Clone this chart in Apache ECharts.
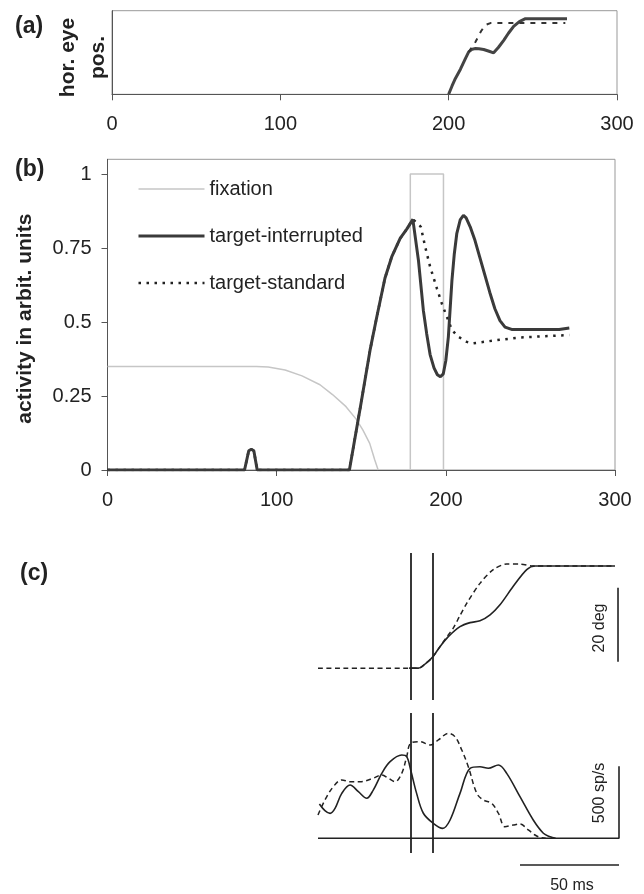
<!DOCTYPE html>
<html lang="en">
<head>
    <meta charset="UTF-8">
    <title>activity</title>
    <script type="text/javascript" src="https://cdn.jsdelivr.net/npm/echarts@6/dist/echarts.min.js"></script>
    <style>
        body { margin: 0; background: #fff; }
        #charts { width: 644px; height: 894px; }
    </style>
</head>
<body>
<div id="charts"></div>
<script>
    // (a) horizontal eye position, time in ms
    var eyeInterrupted = [[200, 0], [202, 0.1], [204, 0.19], [207, 0.3], [210, 0.43], [211.9, 0.507], [214, 0.54], [215.9, 0.547],
        [218, 0.545], [220.8, 0.536], [224, 0.515], [226.7, 0.496], [229.5, 0.56], [232.7, 0.646], [235.5, 0.73],
        [238.6, 0.813], [242, 0.87], [245.6, 0.905], [270.3, 0.905]]
    var eyeStandard = [[211.9, 0.507], [215.9, 0.626], [219.3, 0.757], [222, 0.83], [224.8, 0.852], [269.3, 0.852]]

    // (b) activity
    var fixation = [[0, 0.35], [88, 0.35], [95, 0.348], [105, 0.338], [115, 0.318], [125.6, 0.288], [133, 0.255],
        [141, 0.214], [147, 0.172], [151, 0.135], [155, 0.09], [158, 0.034], [160, 0]]
    var gapWindow = [[179, 0], [179, 1], [198.6, 1], [198.6, 0]]
    var targetInterrupted = [[0, 0], [81, 0], [83.5, 0.065], [85, 0.07], [86.5, 0.065], [88.5, 0], [143, 0], [150, 0.23],
        [155.2, 0.405], [159.2, 0.518], [164, 0.648], [168, 0.72], [173, 0.783], [177, 0.815], [180.5, 0.847],
        [183.8, 0.709], [186.7, 0.54], [188.7, 0.46], [190.7, 0.39], [193, 0.345], [195, 0.322], [196.8, 0.315],
        [198.5, 0.325], [200, 0.37], [201.5, 0.45], [203.6, 0.64], [205, 0.73], [206.5, 0.8], [208.5, 0.845],
        [210.4, 0.861], [212, 0.852], [214.4, 0.822], [217, 0.78], [220, 0.72], [223, 0.66], [226, 0.6], [229, 0.545],
        [232, 0.505], [235, 0.483], [238.9, 0.475], [267, 0.475], [268, 0.48], [273, 0.48]]
    var targetStandard = [[0, 0], [81, 0], [83.5, 0.065], [85, 0.07], [86.5, 0.065], [88.5, 0], [143, 0], [150, 0.23],
        [155.2, 0.405], [159.2, 0.518], [164, 0.648], [168, 0.72], [173, 0.783], [177, 0.815], [180.5, 0.847],
        [183, 0.835], [185.2, 0.822], [187.8, 0.754], [190.7, 0.687], [194.7, 0.614], [197.6, 0.563], [200.6, 0.518],
        [203.6, 0.473], [207.5, 0.45], [212.4, 0.433], [216, 0.428], [229, 0.438], [244, 0.448], [273, 0.456]]
    var xTicks = [0, 100, 200, 300]
    var yTicks = [0, 0.25, 0.5, 0.75, 1]

    // (c) recording: eye position (deg) and firing rate (sp/s), time in ms
    var recEyeSolid = [[46, 0], [50.7, 0], [54.9, 1.5], [57.9, 3.0], [61.6, 5.8], [65.8, 8.5], [71.7, 11.2], [76.8, 12.3],
        [81.8, 12.8], [86.9, 14.4], [91.9, 17.1], [98.6, 22.1], [105.4, 26.6], [109.6, 27.6], [150, 27.6]]
    var recEyeDashed = [[0, 0], [50.7, 0], [54.9, 1.5], [57.9, 3.0], [61.6, 5.8], [65.8, 9.0], [68.3, 10.8], [71.5, 14],
        [75.1, 17.5], [81.8, 22.9], [88.5, 26.6], [95.3, 28.1], [102, 28.1], [108.7, 27.6], [150, 27.6]]
    var recRateSolid = [[0.7, 238], [3.5, 192], [6.1, 173], [8.6, 208], [12, 312], [16.2, 370], [20.4, 324], [24.6, 278],
        [27.9, 335], [32.2, 451], [36.4, 532], [42.3, 578], [44.8, 567], [46.8, 474], [49.8, 312], [53.2, 174],
        [58.2, 104], [63, 69], [66.7, 127], [71.7, 312], [76.8, 486], [81.8, 497], [86, 486], [91.1, 509], [95.3, 451],
        [102, 289], [108.7, 127], [113.8, 35], [117.2, 11], [120, 0]]
    var recRateDashed = [[0, 162], [3.5, 266], [7.7, 358], [12, 405], [16.2, 393], [21.2, 393], [27.9, 417], [32.2, 440],
        [35.5, 417], [38.9, 393], [42.3, 451], [44.8, 567], [46.8, 660], [51.5, 671], [56.6, 648], [60.8, 683],
        [65.8, 729], [69.2, 705], [72.6, 613], [75.9, 497], [80.2, 312], [83.5, 266], [87.7, 243], [91.1, 174],
        [94.4, 81], [98.6, 92], [102, 99], [106.2, 58], [109.6, 23], [112.1, 7], [115, 0]]
    var markerTimes = [46.8, 57.9]
    var degBar = 20, rateBar = 500, msBar = 50

    var FONT = '"Liberation Sans", Arial, sans-serif'
    var INK = '#222'
    var recEnd = 152   // right end of the recording baseline (ms)

    function markers(lo, hi) {
        return {
            symbol: 'none', silent: true, animation: false,
            label: {show: false},
            lineStyle: {type: 'solid', color: INK, width: 1.8},
            data: markerTimes.map(function (t) { return [{coord: [t, lo]}, {coord: [t, hi]}] })
        }
    }

    function plotX(i, margin) {
        return {
            type: 'value', gridIndex: i, min: 0, max: 300, interval: 100,
            axisLine: {lineStyle: {color: '#555'}},
            axisTick: {length: 6, lineStyle: {color: '#555'}, customValues: xTicks},
            axisLabel: {fontSize: 20, fontFamily: FONT, color: INK, margin: margin, customValues: xTicks},
            splitLine: {show: false}
        }
    }

    function hidden(i, min, max) {
        return {type: 'value', gridIndex: i, min: min, max: max, show: false, splitLine: {show: false}}
    }

    function line(name, data, xi, color, width, dash, extra) {
        var s = {
            name: name, type: 'line', data: data, xAxisIndex: xi, yAxisIndex: xi,
            symbol: 'none', showSymbol: false, animation: false,
            lineStyle: {color: color, width: width, type: dash || 'solid'},
            itemStyle: {color: color}
        }
        for (var k in extra) s[k] = extra[k]
        return s
    }

    var chart = echarts.init(document.getElementById('charts'), null, {renderer: 'canvas'})
    chart.setOption({
        backgroundColor: '#fff',
        animation: false,
        textStyle: {fontFamily: FONT},
        grid: [
            {left: 112, top: 10.7, width: 505, height: 83.6, show: true, borderColor: '#999', borderWidth: 1},
            {left: 107.5, top: 159.3, width: 507.5, height: 310.7, show: true, borderColor: '#999', borderWidth: 1},
            {left: 318, top: 553, width: 301, height: 147},
            {left: 318, top: 713, width: 301, height: 157}
        ],
        xAxis: [
            plotX(0, 20),
            plotX(1, 20),
            hidden(2, 0, recEnd),
            hidden(3, 0, recEnd)
        ],
        yAxis: [
            {
                type: 'value', gridIndex: 0, min: 0, max: 1,
                axisLine: {show: true, lineStyle: {color: '#555'}},
                axisTick: {show: false}, axisLabel: {show: false}, splitLine: {show: false},
                name: 'hor. eye\npos.', nameLocation: 'middle', nameRotate: 90, nameGap: -1,
                nameTextStyle: {fontSize: 21, fontWeight: 'bold', fontFamily: FONT, color: INK, lineHeight: 30,
                    padding: [0, 10, 0, 0]}
            },
            {
                type: 'value', gridIndex: 1, min: 0, max: 1.05,
                axisLine: {show: true, lineStyle: {color: '#555'}},
                axisTick: {show: true, length: 6, lineStyle: {color: '#555'}, customValues: yTicks},
                axisLabel: {fontSize: 20, fontFamily: FONT, color: INK, margin: 16, customValues: yTicks},
                splitLine: {show: false},
                name: 'activity in arbit. units', nameLocation: 'middle', nameRotate: 90, nameGap: 72,
                nameTextStyle: {fontSize: 21, fontWeight: 'bold', fontFamily: FONT, color: INK, padding: [0, 8, 0, 0]}
            },
            hidden(2, -8.6, 31.1),
            hidden(3, -220, 870)
        ],
        legend: {
            orient: 'vertical', left: 137, top: 179, padding: 0,
            itemWidth: 66, itemHeight: 14, itemGap: 27,
            itemStyle: {opacity: 0},
            textStyle: {fontSize: 20, fontFamily: FONT, color: INK},
            data: [
                {name: 'fixation', lineStyle: {width: 1.5}},
                {name: 'target-interrupted', lineStyle: {width: 3}},
                {name: 'target-standard', lineStyle: {width: 2.5}}
            ]
        },
        series: [
            line('eye interrupted', eyeInterrupted, 0, '#444', 3),
            line('eye standard', eyeStandard, 0, '#333', 2, [5, 6]),

            line('fixation', fixation, 1, '#c6c6c6', 1.5, null, {z: 1}),
            line('gap', gapWindow, 1, '#c6c6c6', 1.5, null, {z: 1}),
            line('target-standard', targetStandard, 1, '#222', 2.5, [2.5, 5.5], {z: 2}),
            line('target-interrupted', targetInterrupted, 1, '#3a3a3a', 3, null, {z: 3}),

            line('rec eye dashed', recEyeDashed, 2, INK, 1.5, [5, 3.5], {smooth: 0.3}),
            line('rec eye solid', recEyeSolid, 2, INK, 1.6, null, {smooth: 0.3, markLine: markers(-8.6, 31.1)}),
            line('deg bar', [[151.5, 1.7], [151.5, 1.7 + degBar]], 2, INK, 1.6),

            line('rec rate dashed', recRateDashed, 3, INK, 1.5, [5, 3.5], {smooth: 0.35}),
            line('rec rate solid', recRateSolid, 3, INK, 1.6, null, {smooth: 0.35, markLine: markers(-102, 870)}),
            line('rate bar', [[0, 0], [recEnd, 0], [recEnd, rateBar]], 3, INK, 1.6),
            line('ms bar', [[recEnd - msBar, -185], [recEnd, -185]], 3, INK, 1.6)
        ],
        graphic: [
            {type: 'text', left: 15, top: 15, style: {text: '(a)', font: 'bold 23px ' + FONT, fill: INK}},
            {type: 'text', left: 15, top: 158, style: {text: '(b)', font: 'bold 23px ' + FONT, fill: INK}},
            {type: 'text', left: 20, top: 562, style: {text: '(c)', font: 'bold 23px ' + FONT, fill: INK}},
            {type: 'text', x: 600, y: 628, rotation: Math.PI / 2,
                style: {text: degBar + ' deg', font: '16px ' + FONT, fill: INK, textAlign: 'center', textVerticalAlign: 'middle'}},
            {type: 'text', x: 600, y: 793, rotation: Math.PI / 2,
                style: {text: rateBar + ' sp/s', font: '16px ' + FONT, fill: INK, textAlign: 'center', textVerticalAlign: 'middle'}},
            {type: 'text', x: 572, y: 886,
                style: {text: msBar + ' ms', font: '16px ' + FONT, fill: INK, textAlign: 'center', textVerticalAlign: 'middle'}}
        ]
    })
</script>
</body>
</html>
